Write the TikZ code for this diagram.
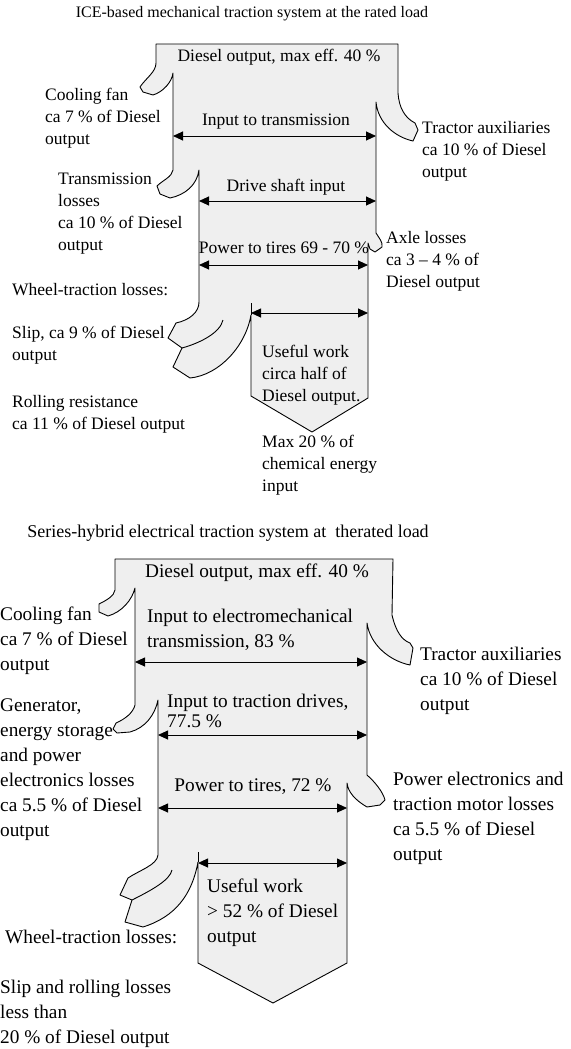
\documentclass[tikz,border=0pt]{standalone}
\usepackage{fontspec}
\setmainfont{Liberation Serif}
\usepackage{tikz}
\usetikzlibrary{arrows.meta}
\definecolor{flowgrey}{HTML}{EFEFEF}
\newcommand{\upfont}{\fontsize{17.5}{22}\selectfont}
\newcommand{\lowfont}{\fontsize{19.3}{25}\selectfont}

\begin{document}
\begin{tikzpicture}[x=1pt,y=-1pt,
  flow/.style={draw=black,fill=flowgrey,line width=0.9pt,line join=round},
  edge/.style={draw=black,line width=0.9pt},
  dim/.style={{Triangle[length=10pt,width=9pt]}-{Triangle[length=10pt,width=9pt]},line width=0.9pt},
  tl/.style={anchor=north west,inner sep=0pt,align=left,font=\upfont},
  bl/.style={anchor=north west,inner sep=0pt,align=left,font=\lowfont}]
  \useasboundingbox (0,0) rectangle (570,1049);
  % ICE-based mechanical system
  \draw[flow] (156,44) -- (398,44) -- (398,93)
    .. controls (399,108) and (405,118) .. (415,123) -- (418,130) -- (413,141)
    .. controls (395,137) and (378,123) .. (376,102) -- (376,233)
    .. controls (379,238) and (383,242) .. (382,247) -- (375,252) -- (370,249) -- (368,243)
    -- (368,398) -- (312,432) -- (251,396) -- (251,315)
    .. controls (246,345) and (220,375) .. (190,378) -- (173,367) -- (182,348) -- (168,338) -- (176,323)
    .. controls (190,320) and (199,312) .. (199,302) -- (199,170)
    .. controls (197,185) and (185,195) .. (170,198) -- (160,194) -- (157,186)
    .. controls (163,180) and (172,177) .. (173,170) -- (173,73)
    .. controls (172,82) and (163,92) .. (153,95) -- (143,92) -- (140,87)
    .. controls (146,78) and (156,72) .. (156,63) -- cycle;
  \draw[edge] (251,315) -- (251,303);
  \draw[edge] (182,348) .. controls (200,343) and (220,333) .. (223,320);
  \coordinate (a1-w) at (173,136); \coordinate (a1-e) at (376,136);
  \coordinate (a2-w) at (199,201); \coordinate (a2-e) at (376,201);
  \coordinate (a3-w) at (199,265); \coordinate (a3-e) at (368,265);
  \coordinate (a4-w) at (251,313); \coordinate (a4-e) at (368,313);
  \node[font=\fontsize{16}{20}\selectfont] (ttl1) at (252,14) {ICE-based mechanical traction system at the rated load};
  \node[font=\upfont] (dsl1) at (279,57) {Diesel output, max eff. 40 \%};
  \node[font=\upfont] (in1) at (276,122) {Input to transmission};
  \node[font=\upfont] (drv1) at (286,187) {Drive shaft input};
  \node[font=\upfont] (tir1) at (284,248) {Power to tires 69 - 70 \%};
  \node[tl] (use1) at (262,345) {Useful work\\circa half of\\Diesel output.};
  \node[tl] (max1) at (262,435) {Max 20 \% of\\chemical energy\\input};
  \node[tl] (fan1) at (45,88) {Cooling fan\\ca 7 \% of Diesel\\output};
  \node[tl] (trm1) at (58,173) {Transmission\\losses\\ca 10 \% of Diesel\\output};
  \node[tl] (whl1) at (12,283) {Wheel-traction losses:};
  \node[tl] (slp1) at (12,326) {Slip, ca 9 \% of Diesel\\output};
  \node[tl] (rol1) at (12,395) {Rolling resistance\\ca 11 \% of Diesel output};
  \node[tl] (aux1) at (422,121) {Tractor auxiliaries\\ca 10 \% of Diesel\\output};
  \node[tl] (axl1) at (386,231) {Axle losses\\ca 3 -- 4 \% of\\Diesel output};
  % series-hybrid electrical system
  \draw[flow] (115,559) -- (393,559) -- (392,615)
    .. controls (396,632) and (402,640) .. (410,643) -- (413,648) -- (410,665)
    .. controls (390,661) and (370,645) .. (367,623) -- (367,775)
    .. controls (375,782) and (383,792) .. (385,800) -- (380,805) -- (367,807)
    .. controls (355,800) and (348,792) .. (347,783) -- (347,963) -- (273,1003) -- (198,963) -- (198,862)
    .. controls (192,895) and (175,917) .. (143,927) -- (125,922) -- (132,900) -- (120,895) -- (128,878)
    .. controls (140,870) and (157,865) .. (158,855) -- (158,700)
    .. controls (155,715) and (145,728) .. (130,732) -- (117,733) -- (113,729) -- (116,723)
    .. controls (125,719) and (133,713) .. (135,705) -- (135,588)
    .. controls (132,600) and (122,612) .. (108,616) -- (99,612) -- (99,604)
    .. controls (107,600) and (114,596) .. (115,590) -- cycle;
  \draw[edge] (198,862) -- (198,852);
  \draw[edge] (132,900) .. controls (152,890) and (170,880) .. (172,870);
  \coordinate (b1-w) at (135,662); \coordinate (b1-e) at (367,662);
  \coordinate (b2-w) at (158,735); \coordinate (b2-e) at (367,735);
  \coordinate (b3-w) at (158,808); \coordinate (b3-e) at (347,808);
  \coordinate (b4-w) at (198,863); \coordinate (b4-e) at (347,863);
  \node[font=\fontsize{18}{22}\selectfont] (ttl2) at (228,533) {Series-hybrid electrical traction system at\ \ therated load};
  \node[font=\lowfont] (dsl2) at (257,573) {Diesel output, max eff. 40 \%};
  \node[bl] (in2) at (147,609) {Input to electromechanical\\transmission, 83 \%};
  \node[bl] (trd2) at (167,694) {Input to traction drives,\\[-5pt]77.5 \%};
  \node[font=\lowfont] (tir2) at (253,787) {Power to tires, 72 \%};
  \node[bl] (use2) at (207,879) {Useful work\\> 52 \% of Diesel\\output};
  \node[bl] (fan2) at (0,607) {Cooling fan\\ca 7 \% of Diesel\\output};
  \node[bl] (gen2) at (0,699) {Generator,\\energy storage\\and power\\electronics losses\\ca 5.5 \% of Diesel\\output};
  \node[bl] (aux2) at (420,647) {Tractor auxiliaries\\ca 10 \% of Diesel\\output};
  \node[bl] (pel2) at (393,772) {Power electronics and\\traction motor losses\\ca 5.5 \% of Diesel\\output};
  \node[bl] (whl2) at (5,930) {Wheel-traction losses:};
  \node[bl] (slp2) at (0,980) {Slip and rolling losses\\less than\\20 \% of Diesel output};
  \foreach \a in {a1,a2,a3,a4,b1,b2,b3,b4} \draw[dim] (\a-w) -- (\a-e);
\end{tikzpicture}
\end{document}
